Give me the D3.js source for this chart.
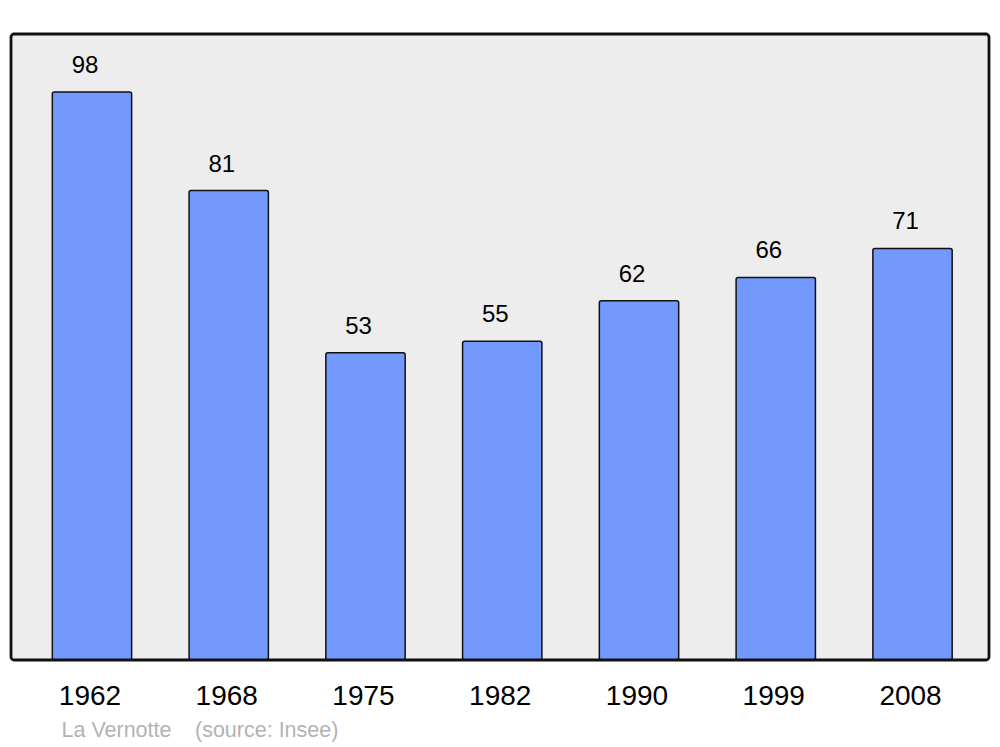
<!DOCTYPE html>
<html lang="fr">
<head>
    <meta charset="UTF-8">
    <title>La Vernotte population</title>
    <style>
        body { margin: 0; background: #fff; font-family: "Liberation Sans", Arial, sans-serif; }
    </style>
    <script src="https://d3js.org/d3.v7.min.js"></script>
</head>
<body>
<script>

    let years = ["1962", "1968", "1975", "1982", "1990", "1999", "2008"]
    let population = [98, 81, 53, 55, 62, 66, 71]
    let yMax = 108

    let width = 1000;
    let height = 747;
    let panel = {left: 11, top: 34, right: 989, bottom: 660}

    let svg = d3.select("body").append("svg")
        .attr("width", width)
        .attr("height", height)

    let x = d3.scaleBand()
        .domain(years)
        .range([23.6, 980.9])
        .paddingInner(0.42)
        .paddingOuter(0.21)

    let y = d3.scaleLinear()
        .domain([0, yMax])
        .range([panel.bottom, panel.top])

    // background panel
    svg.append("rect")
        .attr("x", panel.left)
        .attr("y", panel.top)
        .attr("width", panel.right - panel.left)
        .attr("height", panel.bottom - panel.top)
        .attr("rx", 3)
        .attr("fill", "#ededed")

    svg.append("g")
        .selectAll("rect")
        .data(population)
        .enter()
        .append("rect")
        .attr("x", (d, i) => x(years[i]))
        .attr("y", d => y(d))
        .attr("width", x.bandwidth())
        .attr("height", d => y(0) - y(d))
        .attr("rx", 2)
        .attr("fill", "#7399ff")
        .attr("stroke", "#111")
        .attr("stroke-width", 1.5)

    // value labels
    svg.append("g")
        .selectAll("text")
        .data(population)
        .enter()
        .append("text")
        .attr("x", (d, i) => x(years[i]) + x.bandwidth() / 2 - 7)
        .attr("y", d => y(d) - 19)
        .attr("text-anchor", "middle")
        .attr("font-size", 24)
        .attr("fill", "#000")
        .text(d => d)

    // panel border on top so bar bottoms sit under it
    svg.append("rect")
        .attr("x", panel.left)
        .attr("y", panel.top)
        .attr("width", panel.right - panel.left)
        .attr("height", panel.bottom - panel.top)
        .attr("rx", 3)
        .attr("fill", "none")
        .attr("stroke", "#111")
        .attr("stroke-width", 2.8)

    let xAxis = svg.append("g")
        .attr("transform", "translate(0," + panel.bottom + ")")
        .call(d3.axisBottom(x).tickSize(0).tickPadding(0))
    xAxis.select(".domain").remove()
    xAxis.selectAll("text")
        .attr("x", -2)
        .attr("y", 45)
        .attr("dy", null)
        .attr("font-family", "'Liberation Sans', Arial, sans-serif")
        .attr("font-size", 28)
        .attr("fill", "#000")

    svg.append("text")
        .attr("x", 61.5)
        .attr("y", 737)
        .attr("font-size", 21.5)
        .attr("fill", "#b3b3b3")
        .text("La Vernotte")

    svg.append("text")
        .attr("x", 195)
        .attr("y", 737)
        .attr("font-size", 21.5)
        .attr("fill", "#b3b3b3")
        .text("(source: Insee)")

</script>
</body>
</html>
